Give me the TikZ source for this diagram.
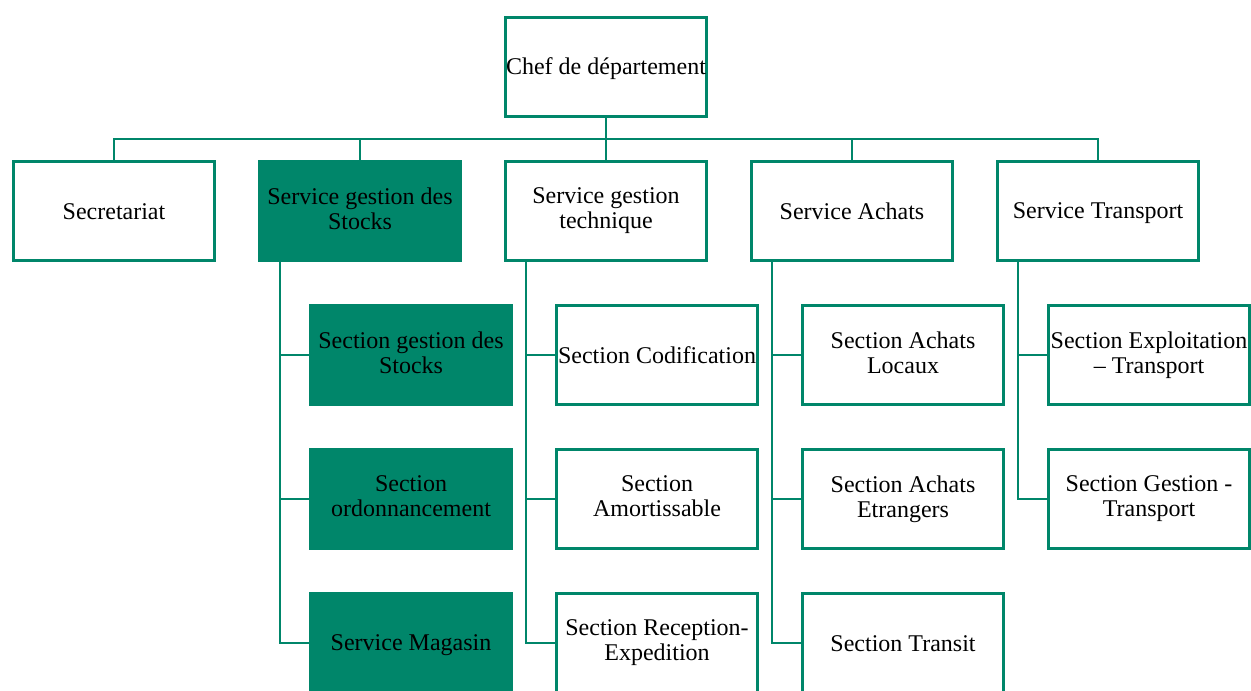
\documentclass[tikz,border=0pt]{standalone}
\usepackage{fontspec}
\setmainfont{Liberation Serif}
\usepackage{xcolor}
\usepackage{tikz}
\usetikzlibrary{positioning, calc}

\definecolor{orggreen}{RGB}{0,134,106}
\newcommand{\orgstrut}{\rule[-2.5pt]{0pt}{13pt}}

\begin{document}
\begin{tikzpicture}[
    box/.style={rectangle, draw=orggreen, line width=1.5pt, fill=white, align=center, inner sep=0pt, minimum width=100.5pt, minimum height=49.5pt, font=\fontsize{12}{12.5}\selectfont, execute at begin node=\orgstrut, execute at end node=\orgstrut},
    fullbox/.style={box, fill=orggreen},
    line/.style={draw=orggreen, line width=1.2pt}
]

\useasboundingbox (0,0) rectangle (625.5pt,-345pt);

% Chef
\node [box] (chef) at (303pt,-33.5pt) {Chef de département};

% Services
\node [box, below=21pt of chef] (tech) {Service gestion\\technique};
\node [fullbox, left=21pt of tech] (stock) {Service gestion des\\Stocks};
\node [box, left=21pt of stock] (secr) {Secretariat};
\node [box, right=21pt of tech] (achat) {Service Achats};
\node [box, right=21pt of achat] (transp) {Service Transport};

% Sections stocks
\node [fullbox, below right=21pt and 25.5pt of stock.south west] (stock1) {Section gestion des\\Stocks};
\node [fullbox, below=21pt of stock1] (stock2) {Section\\ordonnancement};
\node [fullbox, below=21pt of stock2] (stock3) {Service Magasin};

% Sections technique
\node [box, below right=21pt and 25.5pt of tech.south west] (tech1) {Section Codification};
\node [box, below=21pt of tech1] (tech2) {Section\\Amortissable};
\node [box, below=21pt of tech2] (tech3) {Section Reception-\\Expedition};

% Sections achats
\node [box, below right=21pt and 25.5pt of achat.south west] (achat1) {Section Achats\\Locaux};
\node [box, below=21pt of achat1] (achat2) {Section Achats\\Etrangers};
\node [box, below=21pt of achat2] (achat3) {Section Transit};

% Sections transport
\node [box, below right=21pt and 25.5pt of transp.south west] (transp1) {Section Exploitation\\– Transport};
\node [box, below=21pt of transp1] (transp2) {Section Gestion -\\Transport};

% Connections
\foreach \s in {secr, stock, tech, achat, transp}
    \draw [line] (chef.south) -- ++(0,-10.5pt) -| (\s.north);
\foreach \p/\c in {stock/stock1, stock/stock2, stock/stock3, tech/tech1, tech/tech2, tech/tech3, achat/achat1, achat/achat2, achat/achat3, transp/transp1, transp/transp2}
    \draw [line] ($(\p.south west)+(11pt,0)$) |- (\c.west);

\end{tikzpicture}
\end{document}
